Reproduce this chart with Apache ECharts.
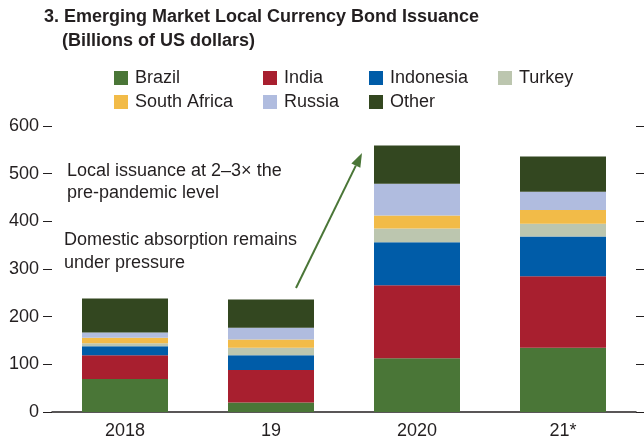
<!DOCTYPE html>
<html>
<head>
<meta charset="utf-8">
<script src="https://cdn.jsdelivr.net/npm/echarts@6/dist/echarts.min.js"></script>
<style>
  html, body { margin: 0; padding: 0; background: #fff; }
  #main { width: 644px; height: 444px; }
</style>
</head>
<body>
<div id="main"></div>
<script>
var years = ['2018', '19', '2020', '21*'];

var brazil      = [69, 20, 113, 135];
var india       = [50, 68, 153, 150];
var indonesia   = [19, 31, 90, 83];
var turkey      = [6, 16, 29, 27];
var southAfrica = [12, 17, 27, 29];
var russia      = [11, 25, 67, 38];
var other       = [71, 59, 80, 74];

var yTicks = [0, 100, 200, 300, 400, 500, 600];

var FONT = "'Liberation Sans', Arial, sans-serif";
var INK = '#231f20';
var FS = 18;

var colors = {
    'Brazil': '#4a7637',
    'India': '#a81f2f',
    'Indonesia': '#005ca8',
    'Turkey': '#bcc6af',
    'South Africa': '#f2bb48',
    'Russia': '#b0bcdf',
    'Other': '#334720'
};

var seriesData = [
    ['Brazil', brazil],
    ['India', india],
    ['Indonesia', indonesia],
    ['Turkey', turkey],
    ['South Africa', southAfrica],
    ['Russia', russia],
    ['Other', other]
];

// legend positions (two rows, four columns)
var legendPos = {
    'Brazil': [114, 69], 'India': [263, 69], 'Indonesia': [369, 69], 'Turkey': [498, 69],
    'South Africa': [114, 93], 'Russia': [263, 93], 'Other': [369, 93]
};

var legends = seriesData.map(function (s) {
    return {
        data: [s[0]],
        left: legendPos[s[0]][0],
        top: legendPos[s[0]][1],
        icon: 'rect',
        itemWidth: 14,
        itemHeight: 14,
        padding: 0,
        selectedMode: false,
        textStyle: { fontFamily: FONT, fontSize: FS, color: INK, padding: [0, 0, 0, 2] }
    };
});

var series = seriesData.map(function (s) {
    return {
        name: s[0],
        type: 'bar',
        stack: 'total',
        barWidth: 86,
        itemStyle: { color: colors[s[0]] },
        emphasis: { disabled: true },
        data: s[1]
    };
});

// arrow annotation
var tail = [296, 288], tip = [362, 153];
var dx = tip[0] - tail[0], dy = tip[1] - tail[1];
var len = Math.sqrt(dx * dx + dy * dy);
var ux = dx / len, uy = dy / len;
var headLen = 14, headHalf = 5;
var base = [tip[0] - headLen * ux, tip[1] - headLen * uy];
var arrowColor = '#4a7637';

var annoStyle = { fontFamily: FONT, fontSize: FS, fill: INK };

var option = {
    animation: false,
    title: [
        {
            text: '3. Emerging Market Local Currency Bond Issuance',
            left: 44, top: 8, padding: 0,
            textStyle: { fontFamily: FONT, fontSize: FS, fontWeight: 'bold', color: INK }
        },
        {
            text: '(Billions of US dollars)',
            left: 62, top: 32, padding: 0,
            textStyle: { fontFamily: FONT, fontSize: FS, fontWeight: 'bold', color: INK }
        }
    ],
    legend: legends,
    grid: { left: 52, right: 8, top: 126, bottom: 32 },
    xAxis: {
        type: 'category',
        data: years,
        axisLine: { lineStyle: { color: INK, width: 1.5 } },
        axisTick: { inside: true, length: 6, lineStyle: { color: INK } },
        axisLabel: { fontFamily: FONT, fontSize: FS, color: INK, margin: 10 }
    },
    yAxis: [
        {
            type: 'value', min: yTicks[0], max: yTicks[yTicks.length - 1], interval: 100,
            axisLine: { show: false },
            axisTick: { show: true, length: 9, lineStyle: { color: INK } },
            axisLabel: { fontFamily: FONT, fontSize: FS, color: INK, margin: 13 },
            splitLine: { show: false }
        },
        {
            type: 'value', position: 'right', min: yTicks[0], max: yTicks[yTicks.length - 1], interval: 100,
            axisLine: { show: false },
            axisTick: { show: true, length: 9, lineStyle: { color: INK } },
            axisLabel: { show: false },
            splitLine: { show: false }
        }
    ],
    graphic: [
        { type: 'text', left: 67, top: 162, style: Object.assign({ text: 'Local issuance at 2\u20133\u00d7 the' }, annoStyle) },
        { type: 'text', left: 67, top: 184, style: Object.assign({ text: 'pre-pandemic level' }, annoStyle) },
        { type: 'text', left: 64, top: 231, style: Object.assign({ text: 'Domestic absorption remains' }, annoStyle) },
        { type: 'text', left: 64, top: 254, style: Object.assign({ text: 'under pressure' }, annoStyle) },
        {
            type: 'line',
            shape: { x1: tail[0], y1: tail[1], x2: base[0], y2: base[1] },
            style: { stroke: arrowColor, lineWidth: 2 }
        },
        {
            type: 'polygon',
            shape: {
                points: [
                    tip,
                    [base[0] + headHalf * -uy, base[1] + headHalf * ux],
                    [base[0] - headHalf * -uy, base[1] - headHalf * ux]
                ]
            },
            style: { fill: arrowColor }
        }
    ],
    series: series
};

var myChart = echarts.init(document.getElementById('main'));
myChart.setOption(option);
</script>
</body>
</html>
